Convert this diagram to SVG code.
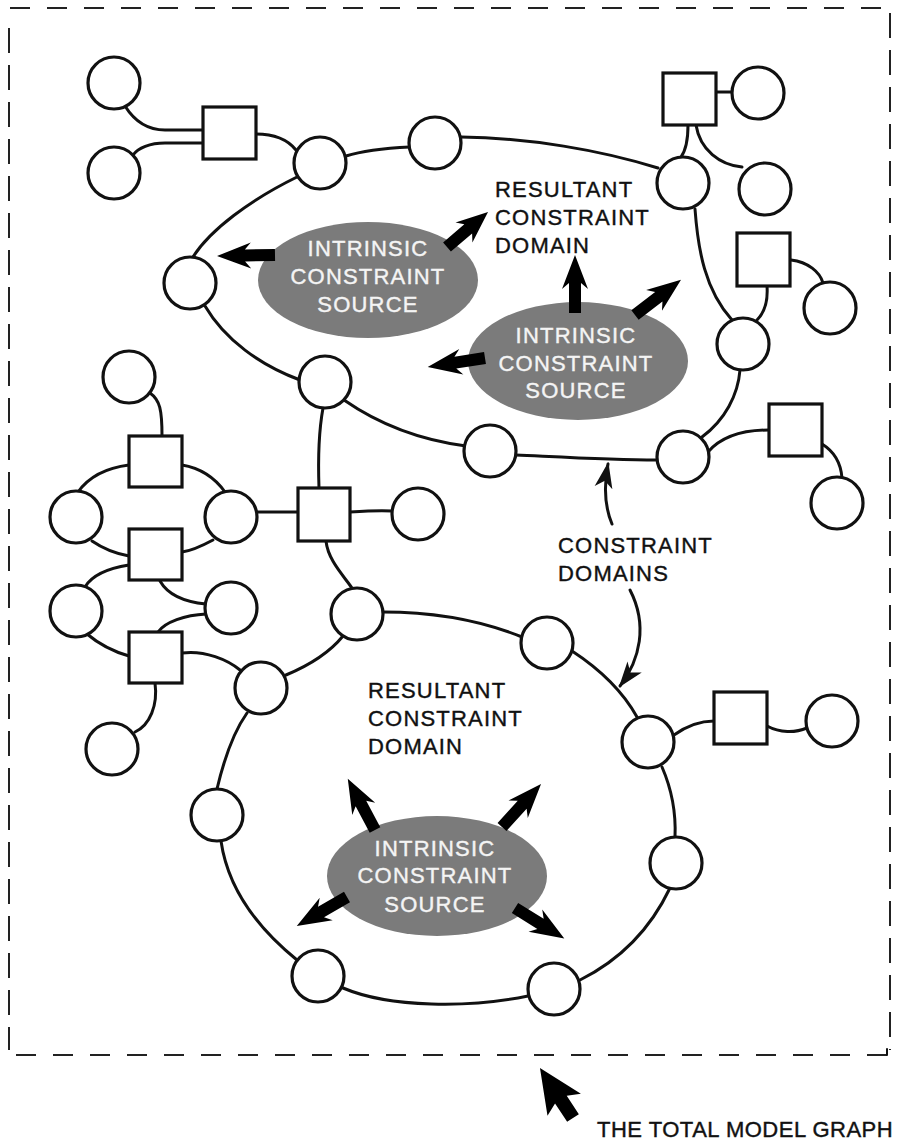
<svg xmlns="http://www.w3.org/2000/svg" xmlns:xlink="http://www.w3.org/1999/xlink" width="903" height="1143" viewBox="0 0 903 1143">
<style>
.n{fill:#fff;stroke:#111;stroke-width:3.2}
.c{fill:none;stroke:#111;stroke-width:3;stroke-linecap:round}
.e{fill:#7b7b7b;stroke:none}
.tw{font-family:"Liberation Sans",Arial,sans-serif;font-size:22px;fill:#f4f4f4;stroke:#f4f4f4;stroke-width:0.4;text-anchor:middle;letter-spacing:1.2px}
.tb{font-family:"Liberation Sans",Arial,sans-serif;font-size:22px;fill:#111;stroke:#111;stroke-width:0.4;letter-spacing:1.2px}
.bh{fill:none;stroke:#222;stroke-width:2;stroke-dasharray:20 17}
.bv{fill:none;stroke:#222;stroke-width:2;stroke-dasharray:25 12}
.ba{fill:#000}
</style>
<defs>
<path id="ba" d="M0,-6 L30,-6 L24,-13 L58,0 L24,13 L30,6 L0,6 Z"/>
<marker id="ah" viewBox="0 -10 26 20" refX="24" refY="0" markerWidth="26" markerHeight="20" markerUnits="userSpaceOnUse" orient="auto">
<path d="M0,-9 L26,0 L0,9 L7,0 Z" fill="#111"/>
</marker>
</defs>
<rect x="0" y="0" width="903" height="1143" fill="#fff"/>

<g id="border">
<path class="bh" d="M10,8 L890,8"/>
<path class="bv" d="M890,13 L890,1050"/>
<path class="bh" d="M887,1055 L12,1055"/>
<path class="bv" d="M9,28 L9,1050"/>
<path class="c" d="M887,1055 L887,1049" style="stroke-width:2"/>
</g>

<g id="ellipses">
<ellipse id="src1" class="e" cx="368" cy="280" rx="110" ry="58"/>
<ellipse id="src2" class="e" cx="578" cy="361" rx="110" ry="59"/>
<ellipse id="src3" class="e" cx="437" cy="876" rx="110" ry="60"/>
</g>

<g id="connectors">
<path class="c" d="M125,106 C135,122 148,130 165,130 L203,130"/>
<path class="c" d="M203,143 L165,143 C150,143 138,148 133,155"/>
<path class="c" d="M256,134 C275,134 288,140 296,150"/>
<path class="c" d="M346,156 C365,150 390,148 410,147"/>
<path class="c" d="M297,177 C250,200 210,230 193,257"/>
<path class="c" d="M205,306 C225,340 260,365 300,380"/>
<path class="c" d="M344,400 C380,425 420,440 466,446"/>
<path class="c" d="M516,455 C560,457 610,460 657,460"/>
<path class="c" d="M702,437 C725,420 738,395 740,370"/>
<path class="c" d="M732,320 C705,290 698,250 695,209"/>
<path class="c" d="M658,168 C600,150 530,138 461,137"/>
<path class="c" d="M688,125 C688,140 686,150 681,157"/>
<path class="c" d="M696,125 C700,150 720,165 742,167"/>
<path class="c" d="M717,92 L733,92"/>
<path class="c" d="M767,286 C768,300 765,312 757,320"/>
<path class="c" d="M791,260 C808,262 820,272 823,283"/>
<path class="c" d="M708,452 C720,438 740,430 769,430"/>
<path class="c" d="M822,444 C835,452 841,465 842,478"/>
<path class="c" d="M150,393 C160,400 162,410 162,436"/>
<path class="c" d="M129,465 C105,468 88,478 78,492"/>
<path class="c" d="M182,465 C200,468 215,478 225,492"/>
<path class="c" d="M92,541 C105,550 118,554 129,556"/>
<path class="c" d="M213,540 C200,547 190,551 182,552"/>
<path class="c" d="M129,565 C110,568 92,575 85,587"/>
<path class="c" d="M160,581 C168,595 185,602 206,604"/>
<path class="c" d="M206,614 C185,615 165,622 158,632"/>
<path class="c" d="M87,634 C100,645 115,652 129,656"/>
<path class="c" d="M182,653 C205,650 228,660 240,670"/>
<path class="c" d="M155,683 C158,705 150,725 135,732"/>
<path class="c" d="M257,512 L298,512"/>
<path class="c" d="M350,512 C365,511 380,510 392,511"/>
<path class="c" d="M323,408 C319,430 318,460 319,488"/>
<path class="c" d="M326,541 C328,560 343,575 352,588"/>
<path class="c" d="M286,675 C310,665 330,652 343,636"/>
<path class="c" d="M383,612 C430,612 480,620 522,637"/>
<path class="c" d="M572,651 C598,668 622,690 637,717"/>
<path class="c" d="M662,767 C672,790 676,815 675,837"/>
<path class="c" d="M670,888 C650,930 620,960 580,980"/>
<path class="c" d="M528,996 C470,1008 390,1008 343,988"/>
<path class="c" d="M297,960 C260,930 228,890 221,841"/>
<path class="c" d="M217,789 C225,755 235,730 247,713"/>
<path class="c" d="M674,735 C688,725 700,721 714,721"/>
<path class="c" d="M767,726 C780,733 795,733 807,728"/>
<path class="c" d="M612,524 C604,505 604,485 608,464" marker-end="url(#ah)"/>
<path class="c" d="M630,590 C648,625 640,660 620,686" marker-end="url(#ah)"/>
</g>

<g id="block-arrows">
<use xlink:href="#ba" href="#ba" class="ba" transform="translate(275,255) rotate(179)"/>
<use xlink:href="#ba" href="#ba" class="ba" transform="translate(447,247) rotate(-40.5) scale(0.93,1)"/>
<use xlink:href="#ba" href="#ba" class="ba" transform="translate(575,313) rotate(-90)"/>
<use xlink:href="#ba" href="#ba" class="ba" transform="translate(635,315) rotate(-37.5)"/>
<use xlink:href="#ba" href="#ba" class="ba" transform="translate(485,358) rotate(171)"/>
<use xlink:href="#ba" href="#ba" class="ba" transform="translate(375,830) rotate(242)"/>
<use xlink:href="#ba" href="#ba" class="ba" transform="translate(502,827) rotate(-47.7)"/>
<use xlink:href="#ba" href="#ba" class="ba" transform="translate(347,897) rotate(150)"/>
<use xlink:href="#ba" href="#ba" class="ba" transform="translate(515,908) rotate(31.8)"/>
<path class="ba" d="M0,-7 L22,-7 L16,-20 L60,0 L16,20 L22,7 L0,7 Z" transform="translate(573,1118) rotate(236.6)"/>
</g>

<g id="nodes">
<circle id="c1" class="n" cx="114" cy="83" r="26"/>
<circle id="c2" class="n" cx="114" cy="173" r="26"/>
<rect id="s1" class="n" x="203" y="107" width="53" height="52"/>
<circle id="c3" class="n" cx="320" cy="163" r="26"/>
<circle id="c4" class="n" cx="435" cy="143" r="26"/>
<circle id="c5" class="n" cx="190" cy="283" r="26"/>
<rect id="s2" class="n" x="663" y="73" width="53" height="52"/>
<circle id="c6" class="n" cx="758" cy="93" r="26"/>
<circle id="c7" class="n" cx="683" cy="183" r="26"/>
<circle id="c8" class="n" cx="765" cy="189" r="26"/>
<rect id="s3" class="n" x="737" y="233" width="53" height="53"/>
<circle id="c9" class="n" cx="830" cy="308" r="26"/>
<circle id="c10" class="n" cx="743" cy="344" r="26"/>
<circle id="c11" class="n" cx="683" cy="457" r="26"/>
<rect id="s4" class="n" x="769" y="404" width="53" height="52"/>
<circle id="c12" class="n" cx="837" cy="503" r="26"/>
<circle id="c13" class="n" cx="325" cy="382" r="26"/>
<circle id="c14" class="n" cx="490" cy="451" r="26"/>
<circle id="c15" class="n" cx="129" cy="377" r="26"/>
<rect id="s5" class="n" x="129" y="436" width="53" height="51"/>
<circle id="c16" class="n" cx="76" cy="517" r="26"/>
<circle id="c17" class="n" cx="231" cy="517" r="26"/>
<rect id="s6" class="n" x="129" y="529" width="53" height="51"/>
<circle id="c18" class="n" cx="76" cy="611" r="26"/>
<circle id="c19" class="n" cx="231" cy="608" r="26"/>
<rect id="s7" class="n" x="129" y="632" width="53" height="51"/>
<rect id="s8" class="n" x="298" y="488" width="52" height="53"/>
<circle id="c20" class="n" cx="418" cy="514" r="26"/>
<circle id="c21" class="n" cx="261" cy="688" r="26"/>
<circle id="c22" class="n" cx="357" cy="614" r="26"/>
<circle id="c23" class="n" cx="112" cy="749" r="26"/>
<circle id="c24" class="n" cx="547" cy="643" r="26"/>
<circle id="c25" class="n" cx="648" cy="742" r="26"/>
<rect id="s9" class="n" x="714" y="692" width="53" height="52"/>
<circle id="c26" class="n" cx="832" cy="721" r="26"/>
<circle id="c27" class="n" cx="676" cy="863" r="26"/>
<circle id="c28" class="n" cx="554" cy="989" r="26"/>
<circle id="c29" class="n" cx="318" cy="976" r="26"/>
<circle id="c30" class="n" cx="217" cy="815" r="26"/>
</g>

<g id="labels">
<text class="tw" x="368" y="256">INTRINSIC</text>
<text class="tw" x="368" y="284">CONSTRAINT</text>
<text class="tw" x="368" y="312">SOURCE</text>
<text class="tw" x="576" y="343">INTRINSIC</text>
<text class="tw" x="576" y="371">CONSTRAINT</text>
<text class="tw" x="576" y="398">SOURCE</text>
<text class="tw" x="435" y="856">INTRINSIC</text>
<text class="tw" x="435" y="883">CONSTRAINT</text>
<text class="tw" x="435" y="912">SOURCE</text>
<text class="tb" x="495" y="197">RESULTANT</text>
<text class="tb" x="495" y="225">CONSTRAINT</text>
<text class="tb" x="495" y="253">DOMAIN</text>
<text class="tb" x="368" y="698">RESULTANT</text>
<text class="tb" x="368" y="726">CONSTRAINT</text>
<text class="tb" x="368" y="754">DOMAIN</text>
<text class="tb" x="558" y="553">CONSTRAINT</text>
<text class="tb" x="558" y="581">DOMAINS</text>
<text class="tb" x="597" y="1137" style="letter-spacing:0.5px">THE TOTAL MODEL GRAPH</text>
</g>
</svg>
